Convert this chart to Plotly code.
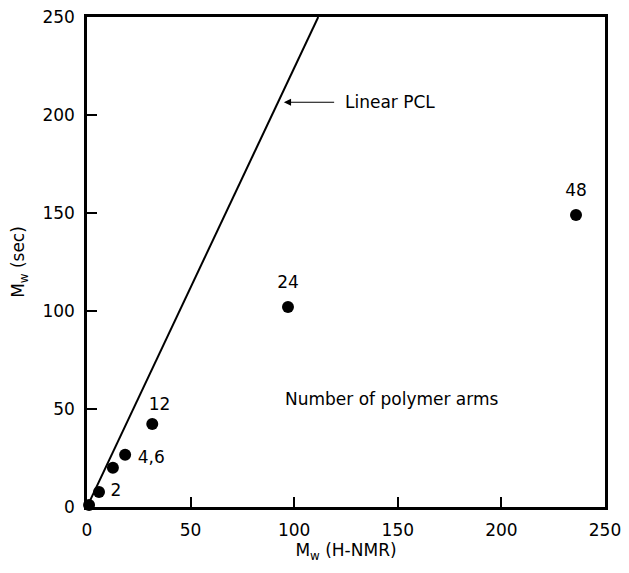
import plotly.graph_objects as go

# Data
pt_x = [1, 5.8, 12.5, 18.4, 31.5, 97, 236]
pt_y = [1, 7.7, 20, 26.6, 42.4, 102, 149]

# Linear PCL reference line
line_x = [0, 111.6]
line_y = [0, 250]

# Point labels (number of arms)
lab_text = ["2", "4,6", "12", "24", "48"]
lab_x = [14, 31, 35, 97, 236]
lab_y = [8, 24.5, 51.5, 114, 161]

tick_vals = [0, 50, 100, 150, 200, 250]

FONT = "DejaVu Sans"

fig = go.Figure()
fig.add_trace(go.Scatter(x=line_x, y=line_y, mode="lines",
                         line=dict(color="black", width=2), cliponaxis=True,
                         showlegend=False, hoverinfo="skip"))
fig.add_trace(go.Scatter(x=pt_x, y=pt_y, mode="markers",
                         marker=dict(color="black", size=12),
                         cliponaxis=False, showlegend=False))
fig.add_trace(go.Scatter(x=lab_x, y=lab_y, mode="text", text=lab_text,
                         textfont=dict(family=FONT, size=17, color="black"),
                         cliponaxis=False, showlegend=False))

fig.add_annotation(x=95, y=206.5, ax=120, ay=206.5, axref="x", ayref="y",
                   xref="x", yref="y", text="", showarrow=True,
                   arrowhead=2, arrowsize=1.2, arrowwidth=1.2, arrowcolor="black")
fig.add_annotation(x=123.5, y=206.5, xref="x", yref="y", text="Linear PCL",
                   showarrow=False, xanchor="left", yanchor="middle",
                   font=dict(family=FONT, size=17, color="black"))
fig.add_annotation(x=147, y=55, xref="x", yref="y", text="Number of polymer arms",
                   showarrow=False, xanchor="center", yanchor="middle",
                   font=dict(family=FONT, size=17, color="black"))

axis_common = dict(range=[0, 250], tickvals=tick_vals, ticks="inside", ticklen=10,
                   tickwidth=1.5, tickcolor="black", showline=True, linecolor="black",
                   linewidth=2.5, mirror=True, showgrid=False, zeroline=False,
                   automargin=False, ticklabelstandoff=6, ticklabeloverflow="allow",
                   tickfont=dict(family=FONT, size=17, color="black"))

fig.update_xaxes(**axis_common,
                 title=dict(text="M<sub>w</sub> (H-NMR)", standoff=4,
                            font=dict(family=FONT, size=17, color="black")))
fig.update_yaxes(**axis_common,
                 title=dict(text="M<sub>w</sub> (sec)", standoff=14,
                            font=dict(family=FONT, size=17, color="black")))

fig.update_layout(width=621, height=565,
                  margin=dict(l=79, r=24, t=9, b=66),
                  plot_bgcolor="white", paper_bgcolor="white")

fig.write_html("out.html")
